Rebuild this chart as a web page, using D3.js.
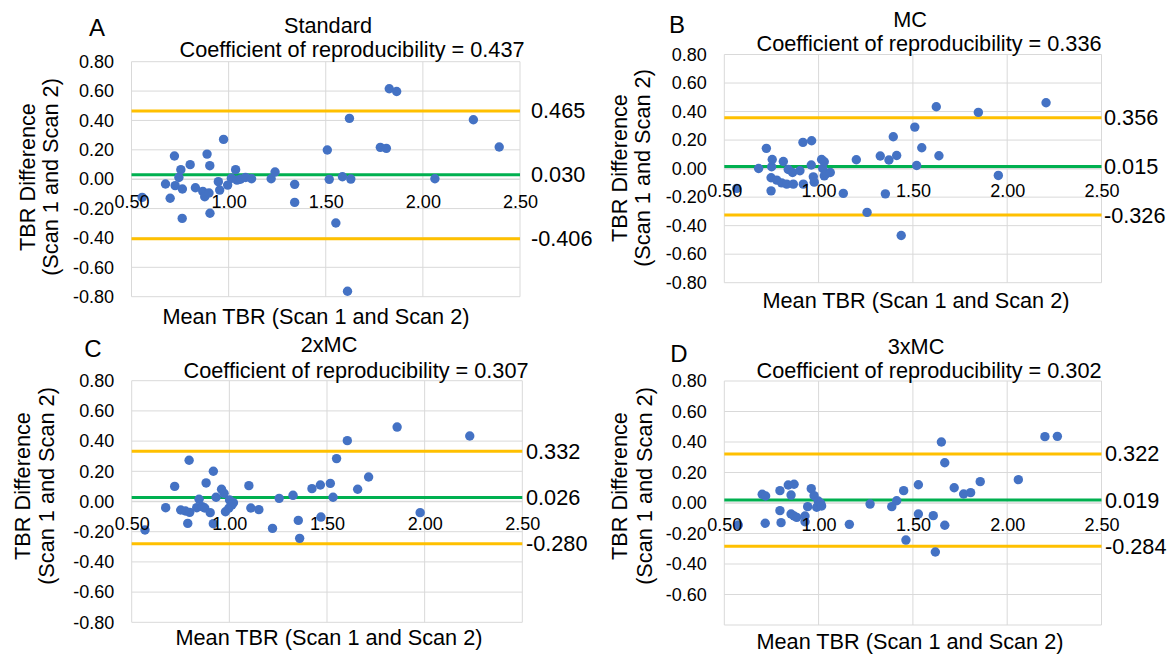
<!DOCTYPE html>
<html>
<head>
<meta charset="utf-8">
<script src="https://cdn.jsdelivr.net/npm/d3@7"></script>
<style>
  body { margin: 0; background: #fff; }
  svg text { font-family: "Liberation Sans", Arial, sans-serif; fill: #000; }
</style>
</head>
<body>
<div id="chart"></div>
<script>
// ---- data ----
const panelLetters = ['A', 'B', 'C', 'D'];
const panelTitles = ['Standard', 'MC', '2xMC', '3xMC'];
const coefValues = ['0.437', '0.336', '0.307', '0.302'];
const meanDiff = [0.030, 0.015, 0.026, 0.019];
const upperLoA = [0.465, 0.356, 0.332, 0.322];
const lowerLoA = [-0.406, -0.326, -0.280, -0.284];
const xTicks = [0.5, 1.0, 1.5, 2.0, 2.5];
const yTicks = [0.8, 0.6, 0.4, 0.2, 0, -0.2, -0.4, -0.6, -0.8];
const yTickLabelsD = [0.8, 0.6, 0.4, 0.2, 0, -0.2, -0.4, -0.6];

const standardPts = [[0.555,-0.124],[0.675,-0.033],[0.699,-0.13],[0.721,0.158],[0.725,-0.044],[0.744,0.012],
  [0.754,0.065],[0.762,-0.067],[0.761,-0.267],[0.802,0.099],[0.829,-0.058],[0.867,-0.083],[0.877,-0.119],
  [0.889,0.171],[0.899,-0.094],[0.903,0.092],[0.904,-0.232],[0.947,-0.017],[0.954,-0.074],[0.974,0.271],
  [0.995,-0.04],[1.014,0.006],[1.036,0.065],[1.043,-0.006],[1.061,0.0],[1.087,0.012],[1.118,0.003],
  [1.219,0.003],[1.239,0.049],[1.34,-0.035],[1.34,-0.158],[1.508,0.199],[1.518,-0.001],[1.552,-0.298],
  [1.586,0.017],[1.612,-0.763],[1.622,0.414],[1.629,0.001],[1.781,0.217],[1.812,0.21],[1.827,0.616],
  [1.865,0.597],[2.062,0.003],[2.26,0.405],[2.393,0.219]];
const mcPts = [[0.566,-0.139],[0.682,0.001],[0.723,0.142],[0.748,-0.156],[0.748,-0.064],[0.751,0.013],
  [0.754,0.064],[0.778,-0.081],[0.804,-0.1],[0.813,0.05],[0.831,-0.109],[0.839,-0.006],[0.862,-0.027],
  [0.866,-0.109],[0.901,-0.015],[0.917,0.184],[0.919,-0.109],[0.961,0.025],[0.963,0.195],[0.972,-0.058],
  [0.977,-0.095],[1.016,0.064],[1.022,0.001],[1.03,0.048],[1.03,-0.051],[1.043,-0.034],[1.062,-0.027],
  [1.131,-0.174],[1.2,0.062],[1.257,-0.307],[1.327,0.088],[1.354,-0.177],[1.373,0.06],[1.396,0.223],
  [1.414,0.092],[1.438,-0.469],[1.51,0.291],[1.52,0.022],[1.547,0.146],[1.624,0.434],[1.638,0.09],
  [1.847,0.394],[1.953,-0.048],[2.206,0.462]];
const mc2Pts = [[0.568,-0.189],[0.674,-0.041],[0.72,0.1],[0.751,-0.056],[0.775,-0.063],[0.787,-0.145],
  [0.794,0.273],[0.797,-0.072],[0.833,-0.041],[0.845,0.015],[0.861,-0.034],[0.874,-0.043],[0.881,0.123],
  [0.902,-0.074],[0.918,0.2],[0.918,-0.147],[0.932,0.028],[0.96,0.081],[0.973,0.054],[0.98,-0.068],
  [0.997,-0.045],[1.001,0.01],[1.013,-0.023],[1.021,-0.008],[1.1,0.105],[1.11,-0.043],[1.151,-0.054],
  [1.221,-0.178],[1.255,0.021],[1.326,0.041],[1.353,-0.125],[1.36,-0.244],[1.423,0.085],[1.466,0.109],
  [1.469,-0.103],[1.517,0.12],[1.531,0.028],[1.549,0.284],[1.604,0.403],[1.657,0.081],[1.713,0.162],
  [1.859,0.493],[1.977,-0.074],[2.231,0.434]];
const mc3Pts = [[0.574,-0.144],[0.701,0.057],[0.719,0.046],[0.717,-0.133],[0.795,0.081],[0.795,-0.05],
  [0.801,-0.129],[0.839,0.118],[0.854,0.052],[0.854,-0.072],[0.87,0.123],[0.87,-0.085],[0.884,-0.094],
  [0.928,-0.085],[0.928,-0.123],[0.942,-0.024],[0.961,0.094],[0.976,0.048],[0.99,-0.028],[0.998,0.013],
  [1.011,-0.002],[1.016,-0.02],[1.163,-0.14],[1.273,-0.007],[1.388,-0.024],[1.414,0.015],[1.451,0.081],
  [1.463,-0.243],[1.529,0.12],[1.529,-0.072],[1.608,-0.083],[1.619,-0.321],[1.651,0.4],[1.669,0.264],
  [1.669,-0.146],[1.719,0.1],[1.769,0.059],[1.806,0.068],[1.857,0.14],[2.059,0.153],[2.2,0.435],
  [2.266,0.437]];
const panelPoints = [standardPts, mcPts, mc2Pts, mc3Pts];

// ---- layout (pixel positions of each panel's pieces) ----
const layout = [
  { l: 131.5, r: 520,    t: 61.7, b: 296.7, letter: [97, 36],  title: [328, 33],  coef: [352, 57],
    xTitle: [316, 324], yTitle: [35, 58, 177],  rLab: 531 },
  { l: 724.3, r: 1101.5, t: 54.5, b: 282.7, letter: [677, 33], title: [910, 27],  coef: [929, 51],
    xTitle: [916, 308], yTitle: [627, 650, 168], rLab: 1104 },
  { l: 131.7, r: 522.3,  t: 380.7, b: 622.3, letter: [93, 357], title: [329, 352], coef: [356, 378],
    xTitle: [329, 645], yTitle: [30, 54, 486],  rLab: 526 },
  { l: 724.3, r: 1101.5, t: 381,  b: 625,   letter: [679, 362], title: [916, 354], coef: [929, 378],
    xTitle: [910, 649], yTitle: [627, 652, 486], rLab: 1105 }
];

const width = 1167;
const height = 654;
const bigFont = 21.7;
const tickFont = 18;
const loc = d3.formatLocale({ decimal: '.', thousands: ',', grouping: [3], currency: ['', ''], minus: '-' });
const fmt2 = loc.format('.2f');
const fmt3 = loc.format('.3f');

const svg = d3.select('#chart').append('svg')
  .attr('width', width)
  .attr('height', height);

panelLetters.forEach((letter, i) => {
  const L = layout[i];
  const x = d3.scaleLinear().domain([0.5, 2.5]).range([L.l, L.r]);
  const y = d3.scaleLinear().domain([-0.8, 0.8]).range([L.b, L.t]);
  const g = svg.append('g').attr('class', `panel panel-${letter}`);

  // GRIDLINES
  g.append('g').selectAll('line.hgrid')
    .data(yTicks).enter()
      .append('line')
      .attr('x1', L.l).attr('x2', L.r)
      .attr('y1', d => y(d)).attr('y2', d => y(d))
      .attr('stroke', '#d9d9d9')
      .attr('stroke-width', d => (d === 0 ? 1.6 : 1));
  g.append('g').selectAll('line.vgrid')
    .data(xTicks).enter()
      .append('line')
      .attr('x1', d => x(d)).attr('x2', d => x(d))
      .attr('y1', L.t).attr('y2', L.b)
      .attr('stroke', '#d9d9d9')
      .attr('stroke-width', 1);

  // Y AXIS LABELS
  const yAxis = d3.axisLeft(y)
    .tickValues(i === 3 ? yTickLabelsD : yTicks)
    .tickFormat(fmt2)
    .tickSize(0)
    .tickPadding(17.5);
  const ya = g.append('g').attr('transform', `translate(${L.l},0)`).call(yAxis);
  ya.select('.domain').remove();
  ya.selectAll('text').style('font-size', `${tickFont}px`).attr('fill', '#000');

  // MEAN AND LIMITS OF AGREEMENT
  const refLines = [
    { v: upperLoA[i], c: '#ffc000' },
    { v: meanDiff[i], c: '#00b050' },
    { v: lowerLoA[i], c: '#ffc000' }
  ];
  g.append('g').selectAll('line')
    .data(refLines).enter()
      .append('line')
      .attr('x1', L.l).attr('x2', L.r)
      .attr('y1', d => y(d.v)).attr('y2', d => y(d.v))
      .attr('stroke', d => d.c)
      .attr('stroke-width', 3);
  g.append('g').selectAll('text')
    .data(refLines).enter()
      .append('text')
      .attr('x', L.rLab)
      .attr('y', d => y(d.v))
      .attr('dy', '0.35em')
      .style('font-size', `${bigFont}px`)
      .text(d => fmt3(d.v));

  // POINTS
  g.append('g').selectAll('circle')
    .data(panelPoints[i]).enter()
      .append('circle')
      .attr('cx', d => x(d[0]))
      .attr('cy', d => y(d[1]))
      .attr('r', 4.7)
      .attr('fill', '#4472c4');

  // X AXIS LABELS (axis crosses at 0, labels sit on top of the dots)
  const xAxis = d3.axisBottom(x)
    .tickValues(xTicks)
    .tickFormat(fmt2)
    .tickSize(0)
    .tickPadding(15.7);
  const xa = g.append('g').attr('transform', `translate(0,${y(0)})`).call(xAxis);
  xa.select('.domain').remove();
  xa.selectAll('text').style('font-size', `${tickFont}px`).attr('fill', '#000');

  // TITLES
  g.append('text')
    .attr('x', L.letter[0]).attr('y', L.letter[1])
    .attr('text-anchor', 'middle')
    .style('font-size', '24px')
    .text(letter);
  g.append('text')
    .attr('x', L.title[0]).attr('y', L.title[1])
    .attr('text-anchor', 'middle')
    .style('font-size', `${bigFont}px`)
    .text(panelTitles[i]);
  g.append('text')
    .attr('x', L.coef[0]).attr('y', L.coef[1])
    .attr('text-anchor', 'middle')
    .style('font-size', `${bigFont}px`)
    .text(`Coefficient of reproducibility = ${coefValues[i]}`);
  g.append('text')
    .attr('x', L.xTitle[0]).attr('y', L.xTitle[1])
    .attr('text-anchor', 'middle')
    .style('font-size', `${bigFont}px`)
    .text('Mean TBR (Scan 1 and Scan 2)');
  [['TBR Difference', L.yTitle[0]], ['(Scan 1 and Scan 2)', L.yTitle[1]]].forEach(([txt, bx]) => {
    g.append('text')
      .attr('transform', `translate(${bx},${L.yTitle[2]}) rotate(-90)`)
      .attr('text-anchor', 'middle')
      .style('font-size', `${bigFont}px`)
      .text(txt);
  });
});
</script>
</body>
</html>
